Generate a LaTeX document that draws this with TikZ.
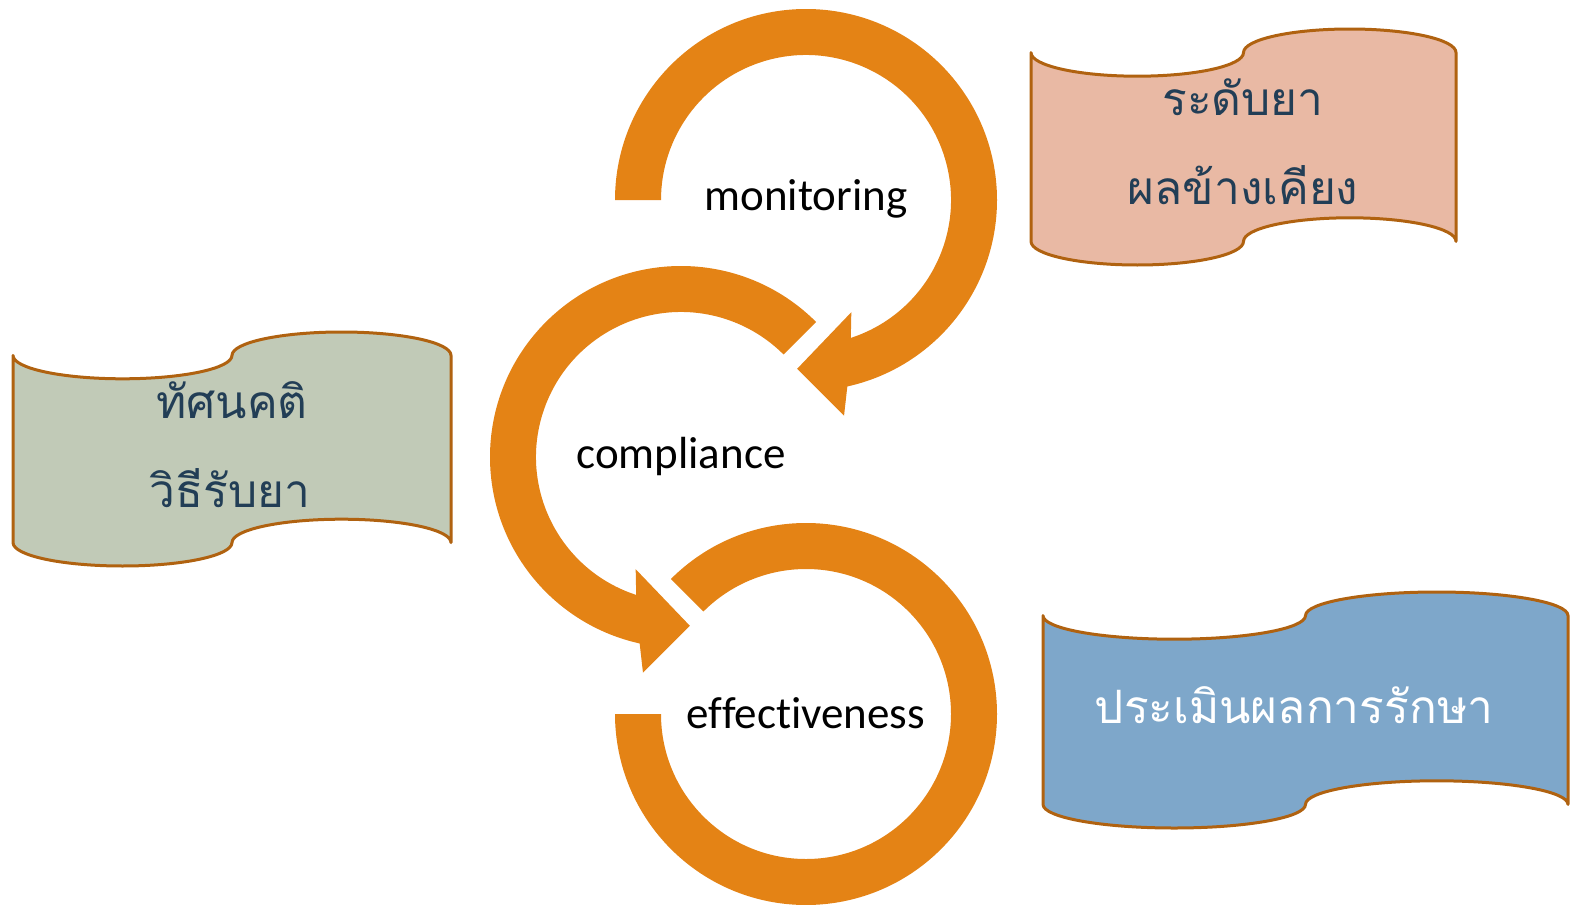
\documentclass[tikz,border=0pt]{standalone}
\usepackage{fontspec}
\setmainfont{Carlito}[Ligatures=NoCommon]
\newfontfamily\thaifont[Script=Thai]{Loma}
\usetikzlibrary{calc}
\definecolor{ringorange}{RGB}{228,131,21}
\definecolor{tapeedge}{RGB}{176,98,16}
\definecolor{tapepink}{RGB}{233,185,164}
\definecolor{tapegreen}{RGB}{193,202,183}
\definecolor{tapeblue}{RGB}{126,167,202}
\definecolor{thaitext}{RGB}{34,62,86}
\tikzset{
  ring/.style={fill=ringorange, draw=none},
  tape/.style={draw=tapeedge, line width=3pt, line join=round},
  cyclelabel/.style={font=\fontsize{45}{50}\selectfont, text=black, inner sep=0pt, anchor=base},
  thailabel/.style={font=\thaifont\fontsize{46}{50}\selectfont, text=thaitext, inner sep=0pt, anchor=base},
}
\newcommand\tapeshape[5]{%
  \pgfmathsetmacro\tpA{(#4)/10}%
  \pgfmathsetmacro\tpQ{(#3)/4}%
  \pgfmathsetmacro\tpM{-(#2)-\tpA}%
  \pgfmathsetmacro\tpB{-(#2)-0.9*(#4)}%
  \pgfmathsetmacro\tpR{(#1)+(#3)}%
  \draw[tape, fill=#5] (#1,\tpM)
    arc[start angle=180, end angle=360, x radius=\tpQ pt, y radius=\tpA pt]
    arc[start angle=180, end angle=0, x radius=\tpQ pt, y radius=\tpA pt]
    -- (\tpR,\tpB)
    arc[start angle=0, end angle=180, x radius=\tpQ pt, y radius=\tpA pt]
    arc[start angle=0, end angle=-180, x radius=\tpQ pt, y radius=\tpA pt]
    -- cycle;%
}
\begin{document}
\begin{tikzpicture}[x=1pt, y=1pt]
\useasboundingbox (0,0) rectangle (1575,-905);

% circle centres
\coordinate (ctop) at (806,-200);
\coordinate (cmid) at (681,-457);
\coordinate (cbot) at (806,-714);

% top ring arrow
\fill[ring] ($(ctop)+(180:191)$) arc[start angle=180, end angle=-77.5, radius=191pt]
  -- ($(ctop)+(-80:219)$) -- ($(ctop)+(-93:169)$) -- ($(ctop)+(-68:121)$)
  -- ($(ctop)+(-72:145)$) arc[start angle=-72, end angle=180, radius=145pt] -- cycle;

% middle ring arrow
\fill[ring] ($(cmid)+(45:191)$) arc[start angle=45, end angle=257.5, radius=191pt]
  -- ($(cmid)+(260:219)$) -- ($(cmid)+(273:169)$) -- ($(cmid)+(248:121)$)
  -- ($(cmid)+(252:145)$) arc[start angle=252, end angle=45, radius=145pt] -- cycle;

% bottom ring
\fill[ring] ($(cbot)+(135:191)$) arc[start angle=135, end angle=-180, radius=191pt]
  -- ($(cbot)+(180:145)$) arc[start angle=-180, end angle=135, radius=145pt] -- cycle;

\node[cyclelabel] (mon) at (806,-210) {monitoring};
\node[cyclelabel] (comp) at (681,-468) {compliance};
\node[cyclelabel] (eff) at (806,-728) {effectiveness};

% banners
\tapeshape{1031}{29}{425}{236}{tapepink}
\tapeshape{13}{332}{438}{234}{tapegreen}
\tapeshape{1043}{592}{525}{236}{tapeblue}

\node[thailabel] (lvl) at (1243,-115) {ระดับยา};
\node[thailabel] (side) at (1243,-204) {ผลข้างเคียง};
\node[thailabel] (att) at (232,-418) {ทัศนคติ};
\node[thailabel] (how) at (230,-507) {วิธีรับยา};
\node[thailabel, text=white] (eval) at (1294,-723) {ประเมินผลการรักษา};
\end{tikzpicture}
\end{document}
